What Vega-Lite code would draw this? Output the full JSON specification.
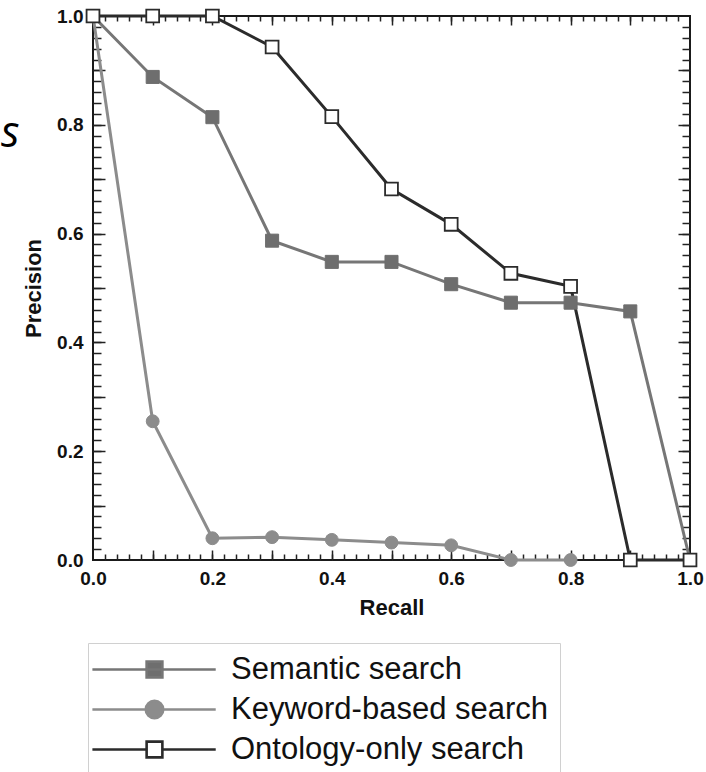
{
  "$schema": "https://vega.github.io/schema/vega-lite/v6.json",
  "width": 597,
  "height": 544,
  "autosize": {"type": "none"},
  "padding": {"left": 93, "top": 16, "right": 16, "bottom": 212},
  "background": "white",
  "config": {"view": {"stroke": "#1a1a1a", "strokeWidth": 2}, "font": "Liberation Sans"},
  "datasets": {
    "curves": [
      {"series": "Keyword-based search", "recall": 0.0, "precision": 1.0},
      {"series": "Keyword-based search", "recall": 0.1, "precision": 0.255},
      {"series": "Keyword-based search", "recall": 0.2, "precision": 0.04},
      {"series": "Keyword-based search", "recall": 0.3, "precision": 0.042},
      {"series": "Keyword-based search", "recall": 0.4, "precision": 0.037},
      {"series": "Keyword-based search", "recall": 0.5, "precision": 0.032},
      {"series": "Keyword-based search", "recall": 0.6, "precision": 0.027},
      {"series": "Keyword-based search", "recall": 0.7, "precision": 0.0},
      {"series": "Keyword-based search", "recall": 0.8, "precision": 0.0},
      {"series": "Semantic search", "recall": 0.0, "precision": 1.0},
      {"series": "Semantic search", "recall": 0.1, "precision": 0.888},
      {"series": "Semantic search", "recall": 0.2, "precision": 0.814},
      {"series": "Semantic search", "recall": 0.3, "precision": 0.587},
      {"series": "Semantic search", "recall": 0.4, "precision": 0.548},
      {"series": "Semantic search", "recall": 0.5, "precision": 0.548},
      {"series": "Semantic search", "recall": 0.6, "precision": 0.507},
      {"series": "Semantic search", "recall": 0.7, "precision": 0.473},
      {"series": "Semantic search", "recall": 0.8, "precision": 0.473},
      {"series": "Semantic search", "recall": 0.9, "precision": 0.457},
      {"series": "Semantic search", "recall": 1.0, "precision": 0.0},
      {"series": "Ontology-only search", "recall": 0.0, "precision": 1.0},
      {"series": "Ontology-only search", "recall": 0.1, "precision": 1.0},
      {"series": "Ontology-only search", "recall": 0.2, "precision": 1.0},
      {"series": "Ontology-only search", "recall": 0.3, "precision": 0.943},
      {"series": "Ontology-only search", "recall": 0.4, "precision": 0.815},
      {"series": "Ontology-only search", "recall": 0.5, "precision": 0.682},
      {"series": "Ontology-only search", "recall": 0.6, "precision": 0.617},
      {"series": "Ontology-only search", "recall": 0.7, "precision": 0.527},
      {"series": "Ontology-only search", "recall": 0.8, "precision": 0.503},
      {"series": "Ontology-only search", "recall": 0.9, "precision": 0.0},
      {"series": "Ontology-only search", "recall": 1.0, "precision": 0.0}
    ]
  },
  "data": {"name": "curves"},
  "layer": [
    {
      "mark": {"type": "line", "strokeWidth": 3},
      "encoding": {
        "x": {"field": "recall", "type": "quantitative", "scale": {"domain": [0, 1], "nice": false, "zero": false},
          "axis": {"orient": "bottom", "values": [0, 0.2, 0.4, 0.6, 0.8, 1], "format": ".1f", "ticks": false, "domain": false, "grid": false,
            "labelFont": "Liberation Sans", "labelFontWeight": "bold", "labelFontSize": 19, "labelColor": "#111", "labelPadding": 9,
            "labelFlush": false, "labelOverlap": false,
            "title": "Recall", "titleFont": "Liberation Sans", "titleFontSize": 22, "titleFontWeight": "bold", "titleColor": "#111", "titlePadding": 9}},
        "y": {"field": "precision", "type": "quantitative", "scale": {"domain": [0, 1], "nice": false, "zero": false},
          "axis": {"orient": "left", "values": [0, 0.2, 0.4, 0.6, 0.8, 1], "format": ".1f", "ticks": false, "domain": false, "grid": false,
            "labelFont": "Liberation Sans", "labelFontWeight": "bold", "labelFontSize": 19, "labelColor": "#111", "labelPadding": 10,
            "labelFlush": false, "labelOverlap": false,
            "title": "Precision", "titleFont": "Liberation Sans", "titleFontSize": 22, "titleFontWeight": "bold", "titleColor": "#111", "titlePadding": 11}},
        "color": {"field": "series", "type": "nominal",
          "scale": {"domain": ["Semantic search", "Keyword-based search", "Ontology-only search"], "range": ["#767676", "#8c8c8c", "#2b2b2b"]},
          "legend": {"orient": "none", "legendX": -5, "legendY": 627, "title": null, "padding": 11,
            "strokeColor": "#d0d0d0", "fillColor": "white", "cornerRadius": 0,
            "labelFont": "Liberation Sans", "labelFontSize": 31, "labelColor": "#111", "labelLimit": 600,
            "symbolSize": 306, "symbolOffset": 40, "labelOffset": 61, "rowPadding": 8, "symbolStrokeWidth": 2.6,
            "encode": {"symbols": {"update": {
              "shape": {"signal": "datum.value === 'Semantic search' ? 'M-7.1,0H7M-0.9,-0.9H0.9V0.9H-0.9Z' : datum.value === 'Keyword-based search' ? 'M-7.1,0H7M-1,0A1,1 0 1,1 1,0A1,1 0 1,1 -1,0Z' : 'M-7.1,0H-0.9M0.9,0H7M-0.9,-0.9H0.9V0.9H-0.9Z'"},
              "fill": {"signal": "datum.value === 'Semantic search' ? '#6e6e6e' : datum.value === 'Keyword-based search' ? '#8c8c8c' : '#ffffff'"},
              "stroke": {"signal": "datum.value === 'Semantic search' ? '#767676' : datum.value === 'Keyword-based search' ? '#8c8c8c' : '#2b2b2b'"},
              "strokeWidth": {"value": 2.6},
              "size": {"value": 306},
              "opacity": {"value": 1}
            }}}
          }}
      }
    },
    {
      "transform": [{"filter": "datum.series === 'Keyword-based search'"}],
      "mark": {"type": "point", "shape": "circle", "filled": true, "fill": "#8c8c8c", "stroke": "#8c8c8c", "strokeWidth": 1, "size": 165, "opacity": 1},
      "encoding": {
        "x": {"field": "recall", "type": "quantitative", "scale": {"domain": [0, 1], "nice": false, "zero": false},
          "axis": {"orient": "bottom", "labels": false, "domain": false, "grid": false, "tickSize": 6, "offset": -6, "tickColor": "#222", "tickWidth": 1.5, "title": null,
            "values": [0.02,0.04,0.06,0.08,0.1,0.12,0.14,0.16,0.18,0.2,0.22,0.24,0.26,0.28,0.3,0.32,0.34,0.36,0.38,0.4,0.42,0.44,0.46,0.48,0.5,0.52,0.54,0.56,0.58,0.6,0.62,0.64,0.66,0.68,0.7,0.72,0.74,0.76,0.78,0.8,0.82,0.84,0.86,0.88,0.9,0.92,0.94,0.96,0.98]}},
        "y": {"field": "precision", "type": "quantitative", "scale": {"domain": [0, 1], "nice": false, "zero": false},
          "axis": {"orient": "left", "labels": false, "domain": false, "grid": false, "tickSize": 8, "offset": -8, "tickColor": "#222", "tickWidth": 1.5, "title": null,
            "values": [0.02,0.04,0.06,0.08,0.1,0.12,0.14,0.16,0.18,0.2,0.22,0.24,0.26,0.28,0.3,0.32,0.34,0.36,0.38,0.4,0.42,0.44,0.46,0.48,0.5,0.52,0.54,0.56,0.58,0.6,0.62,0.64,0.66,0.68,0.7,0.72,0.74,0.76,0.78,0.8,0.82,0.84,0.86,0.88,0.9,0.92,0.94,0.96,0.98]}}
      }
    },
    {
      "transform": [{"filter": "datum.series === 'Semantic search'"}],
      "mark": {"type": "point", "shape": "square", "filled": true, "fill": "#6e6e6e", "stroke": "#6e6e6e", "strokeWidth": 1, "size": 170, "opacity": 1},
      "encoding": {
        "x": {"field": "recall", "type": "quantitative", "scale": {"domain": [0, 1], "nice": false, "zero": false},
          "axis": {"orient": "bottom", "labels": false, "domain": false, "grid": false, "tickSize": 10, "offset": -10, "tickColor": "#222", "tickWidth": 1.5, "title": null,
            "values": [0.1, 0.2, 0.3, 0.4, 0.5, 0.6, 0.7, 0.8, 0.9]}},
        "y": {"field": "precision", "type": "quantitative", "scale": {"domain": [0, 1], "nice": false, "zero": false},
          "axis": {"orient": "left", "labels": false, "domain": false, "grid": false, "tickSize": 12, "offset": -12, "tickColor": "#222", "tickWidth": 1.5, "title": null,
            "values": [0.1, 0.2, 0.3, 0.4, 0.5, 0.6, 0.7, 0.8, 0.9]}}
      }
    },
    {
      "transform": [{"filter": "datum.series === 'Ontology-only search'"}],
      "mark": {"type": "point", "shape": "square", "filled": true, "fill": "#ffffff", "stroke": "#2b2b2b", "strokeWidth": 1.8, "size": 165, "opacity": 1},
      "encoding": {
        "x": {"field": "recall", "type": "quantitative", "scale": {"domain": [0, 1], "nice": false, "zero": false},
          "axis": {"orient": "top", "labels": false, "domain": false, "grid": false, "tickSize": 5, "offset": -5, "tickColor": "#222", "tickWidth": 1.5, "title": null,
            "values": [0.02,0.04,0.06,0.08,0.1,0.12,0.14,0.16,0.18,0.2,0.22,0.24,0.26,0.28,0.3,0.32,0.34,0.36,0.38,0.4,0.42,0.44,0.46,0.48,0.5,0.52,0.54,0.56,0.58,0.6,0.62,0.64,0.66,0.68,0.7,0.72,0.74,0.76,0.78,0.8,0.82,0.84,0.86,0.88,0.9,0.92,0.94,0.96,0.98]}},
        "y": {"field": "precision", "type": "quantitative", "scale": {"domain": [0, 1], "nice": false, "zero": false},
          "axis": {"orient": "right", "labels": false, "domain": false, "grid": false, "tickSize": 8, "offset": -8, "tickColor": "#222", "tickWidth": 1.5, "title": null,
            "values": [0.02,0.04,0.06,0.08,0.1,0.12,0.14,0.16,0.18,0.2,0.22,0.24,0.26,0.28,0.3,0.32,0.34,0.36,0.38,0.4,0.42,0.44,0.46,0.48,0.5,0.52,0.54,0.56,0.58,0.6,0.62,0.64,0.66,0.68,0.7,0.72,0.74,0.76,0.78,0.8,0.82,0.84,0.86,0.88,0.9,0.92,0.94,0.96,0.98]}}
      }
    },
    {
      "data": {"values": [{"label": "s"}]},
      "mark": {"type": "text", "font": "Open Sans", "fontStyle": "italic", "fontSize": 43, "color": "#000", "align": "right", "baseline": "alphabetic"},
      "encoding": {
        "text": {"field": "label", "type": "nominal"},
        "x": {"datum": -0.123, "type": "quantitative", "scale": {"domain": [0, 1], "nice": false, "zero": false},
          "axis": {"orient": "top", "labels": false, "domain": false, "grid": false, "tickSize": 9, "offset": -9, "tickColor": "#222", "tickWidth": 1.5, "title": null,
            "values": [0.1, 0.2, 0.3, 0.4, 0.5, 0.6, 0.7, 0.8, 0.9]}},
        "y": {"datum": 0.759, "type": "quantitative", "scale": {"domain": [0, 1], "nice": false, "zero": false},
          "axis": {"orient": "right", "labels": false, "domain": false, "grid": false, "tickSize": 12, "offset": -12, "tickColor": "#222", "tickWidth": 1.5, "title": null,
            "values": [0.1, 0.2, 0.3, 0.4, 0.5, 0.6, 0.7, 0.8, 0.9]}}
      }
    }
  ],
  "resolve": {"axis": {"x": "independent", "y": "independent"}}
}
